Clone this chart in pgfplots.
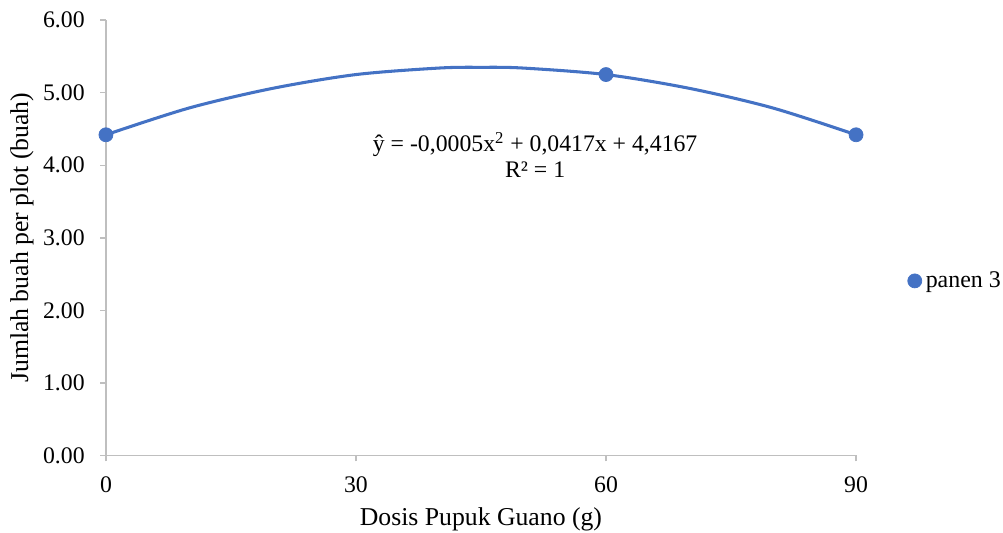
\documentclass[border=0pt]{standalone}
\usepackage{fontspec}
\setmainfont{Liberation Serif}
\usepackage{pgfplots}
\pgfplotsset{compat=1.18}
\definecolor{serieblue}{HTML}{4472C4}
\definecolor{axisgray}{HTML}{BFBFBF}
\begin{document}
\begin{tikzpicture}
\begin{axis}[
 scale only axis,
 width=417pt, height=242pt,
 xmin=0, xmax=90, ymin=0, ymax=6,
 xtick={0,30,60,90},
 ytick={0,1,2,3,4,5,6},
 axis x line=bottom, axis y line=left,
 axis line style={draw=axisgray,line width=0.8pt,-},
 tick style={draw=axisgray,line width=0.8pt},
 tick align=outside, major tick length=3.3pt,
 /pgf/number format/assume math mode=true,
 yticklabel style={/pgf/number format/fixed,/pgf/number format/fixed zerofill,/pgf/number format/precision=2,font=\fontsize{13.2}{15}\selectfont,xshift=-5pt},
 xticklabel style={font=\fontsize{13.2}{15}\selectfont,yshift=-5pt},
 xlabel={Dosis Pupuk Guano (g)},
 ylabel={Jumlah buah per plot (buah)},
 label style={font=\fontsize{14.3}{16}\selectfont},
 xlabel style={at={(axis description cs:0.5,-0.147)},anchor=center},
 ylabel style={at={(axis description cs:-0.112,0.5)},anchor=center},
 legend style={draw=none,fill=none,font=\fontsize{13.3}{15}\selectfont,at={(axis description cs:1.068,0.401)},anchor=west,inner sep=0pt},
 legend cell align={left},
]
\addplot[serieblue,line width=1.7pt,smooth,forget plot] coordinates {
 (0,4.42) (10,4.79) (20,5.06) (30,5.25) (40,5.34) (45,5.35) (50,5.34) (60,5.25) (70,5.06) (80,4.79) (90,4.42)};
\addplot[only marks,mark=*,mark size=3.9pt,serieblue,mark options={fill=serieblue,draw=serieblue},
 legend image code/.code={\fill[serieblue] (0.15cm,0) circle (3.9pt);}] coordinates {
 (0,4.42) (60,5.25) (90,4.42)};
\addlegendentry{panen 3}
\node[align=center,font=\fontsize{13.2}{14.5}\selectfont] at (axis cs:51.5,4.14) {ŷ = -0,0005x\textsuperscript{2} + 0,0417x + 4,4167\\R² = 1};
\end{axis}
\pgfresetboundingbox
\path (current axis.south west) ++(-58.9pt,-42.8pt) rectangle ++(557.6pt,296pt);
\end{tikzpicture}
\end{document}
